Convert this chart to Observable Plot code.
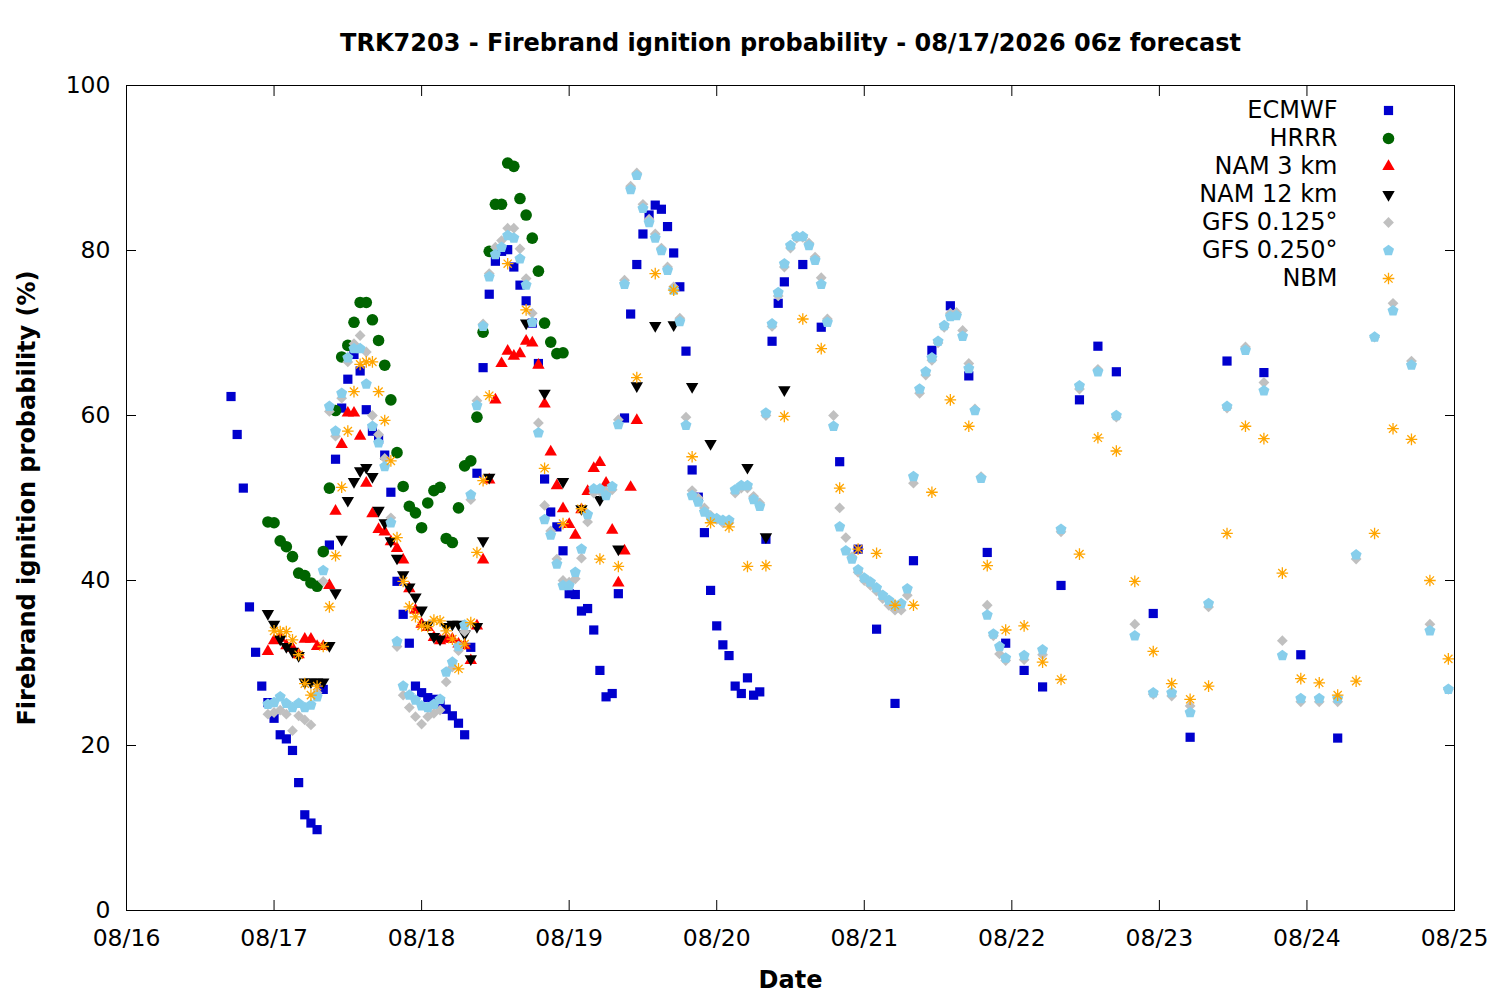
<!DOCTYPE html>
<html><head><meta charset="utf-8">
<script src="https://cdn.jsdelivr.net/npm/d3@7"></script>
<script src="https://cdn.jsdelivr.net/npm/@observablehq/plot@0.6"></script>
<style>html,body{margin:0;padding:0;background:#fff;} #chart svg{display:block;}</style>
</head><body><div id="chart"></div>
<script>
// ---------------- data (hours after 08/16/2026 00z, probability %) ----------------
const models = ["ECMWF", "HRRR", "NAM 3 km", "NAM 12 km", "GFS 0.125°", "GFS 0.250°", "NBM"];
const title = "TRK7203 - Firebrand ignition probability - 08/17/2026 06z forecast";
const xLabel = "Date";
const yLabel = "Firebrand ignition probability (%)";
const xTickLabels = ["08/16","08/17","08/18","08/19","08/20","08/21","08/22","08/23","08/24","08/25"];
const yTicks = [0, 20, 40, 60, 80, 100];

const ecmwf = [[17,62.3],[18,57.7],[19,51.2],[20,36.8],[21,31.3],[22,27.2],[23,25.2],[24,23.3],[25,21.3],[26,20.8],[27,19.4],[28,15.5],[29,11.6],[30,10.6],[31,9.8],[32,26.8],[33,44.3],[34,54.7],[35,60.9],[36,64.4],[37,67.4],[38,65.4],[39,60.7],[40,58.1],[41,57.1],[42,55.2],[43,50.7],[44,39.9],[45,35.9],[46,32.4],[47,27.2],[48,26.4],[49,25.8],[50,25.6],[51,25.1],[52,24.4],[53,23.6],[54,22.7],[55,21.3],[56,31.9],[57,53.0],[58,65.8],[59,74.7],[60,78.7],[61,79.9],[62,80.1],[63,78.0],[64,75.8],[65,73.9],[66,71.2],[67,66.3],[68,52.3],[69,48.3],[70,46.5],[71,43.6],[72,38.4],[73,38.3],[74,36.3],[75,36.6],[76,34.0],[77,29.1],[78,25.9],[79,26.3],[80,38.4],[81,59.7],[82,72.3],[83,78.3],[84,82.0],[85,84.3],[86,85.5],[87,85.0],[88,82.9],[89,79.7],[90,75.6],[91,67.8],[92,53.4],[93,50.1],[94,45.8],[95,38.8],[96,34.5],[97,32.2],[98,30.9],[99,27.2],[100,26.3],[101,28.2],[102,26.1],[103,26.5],[104,45.0],[105,69.0],[106,73.6],[107,76.2],[110,78.3],[113,70.7],[116,54.4],[119,43.8],[122,34.1],[125,25.1],[128,42.4],[131,67.9],[134,73.3],[137,64.8],[140,43.4],[143,32.4],[146,29.1],[149,27.1],[152,39.4],[155,61.9],[158,68.4],[161,65.3],[167,36.0],[173,21.0],[179,66.6],[185,65.2],[191,31.0],[197,20.9]];

const hrrr = [[23,47.1],[24,47.0],[25,44.8],[26,44.1],[27,42.9],[28,40.9],[29,40.6],[30,39.7],[31,39.3],[32,43.5],[33,51.2],[34,60.6],[35,67.1],[36,68.5],[37,71.3],[38,73.7],[39,73.7],[40,71.6],[41,69.1],[42,66.1],[43,61.9],[44,55.5],[45,51.4],[46,49.0],[47,48.2],[48,46.4],[49,49.4],[50,50.9],[51,51.3],[52,45.1],[53,44.6],[54,48.8],[55,53.9],[56,54.5],[57,59.8],[58,70.1],[59,79.9],[60,85.6],[61,85.6],[62,90.6],[63,90.2],[64,86.3],[65,84.3],[66,81.5],[67,77.5],[68,71.2],[69,68.9],[70,67.5],[71,67.6]];

const nam3 = [[23,31.4],[24,32.7],[25,33.0],[26,32.1],[27,31.8],[28,31.0],[29,32.9],[30,32.9],[31,32.0],[32,32.0],[33,39.4],[34,48.4],[35,56.5],[36,60.3],[37,60.3],[38,57.5],[39,51.8],[40,48.1],[41,46.2],[42,45.9],[43,44.7],[44,43.9],[45,42.5],[46,39.0],[47,36.4],[48,34.7],[49,34.3],[50,33.1],[51,32.7],[52,32.9],[53,32.9],[54,32.3],[55,32.1],[56,30.3],[57,34.5],[58,42.5],[59,52.2],[60,61.9],[61,66.3],[62,67.8],[63,67.2],[64,67.5],[65,69.0],[66,68.8],[67,66.1],[68,61.4],[69,55.6],[70,51.5],[71,48.7],[72,46.8],[73,45.5],[74,48.6],[75,50.8],[76,53.6],[77,54.3],[78,51.8],[79,46.1],[80,39.7],[81,43.6],[82,51.3],[83,59.4]];

const nam12 = [[23,36.0],[24,34.7],[25,32.9],[26,32.0],[27,31.4],[28,30.9],[29,27.7],[30,27.7],[31,27.7],[32,27.7],[33,32.1],[34,38.5],[35,45.0],[36,49.7],[37,52.0],[38,53.3],[39,53.7],[40,52.6],[41,48.5],[42,47.0],[43,44.8],[44,42.7],[45,40.7],[46,39.2],[47,38.0],[48,36.4],[49,34.6],[50,33.2],[51,32.9],[52,34.4],[53,34.7],[54,34.7],[55,33.5],[56,30.5],[57,34.4],[58,44.8],[59,52.5],[65,71.2],[68,62.7],[71,52.0],[74,48.7],[77,49.8],[80,43.8],[83,63.6],[86,70.9],[89,71.0],[92,63.5],[95,56.6],[101,53.7],[104,45.3],[107,63.1]];

const gfs125 = [[23,23.8],[24,24.0],[25,24.3],[26,23.8],[27,21.8],[28,23.6],[29,23.1],[30,22.5],[31,26.4],[32,39.9],[33,60.5],[34,57.5],[35,62.1],[36,66.5],[37,68.7],[38,69.7],[39,67.7],[40,60.0],[41,57.7],[42,54.8],[43,47.6],[44,32.0],[45,26.1],[46,24.6],[47,23.5],[48,22.6],[49,23.5],[50,23.9],[51,24.3],[52,27.7],[53,29.5],[54,31.5],[55,33.8],[56,49.8],[57,61.8],[58,71.1],[59,77.2],[60,80.4],[61,81.2],[62,82.7],[63,82.7],[64,80.2],[65,76.6],[66,72.4],[67,59.1],[68,49.1],[69,46.0],[70,42.6],[71,40.0],[72,39.8],[73,40.2],[74,42.7],[75,47.1],[76,50.6],[77,50.8],[78,50.8],[79,51.0],[80,59.5],[81,76.4],[82,87.8],[83,89.4],[84,85.6],[85,83.8],[86,82.0],[87,80.3],[88,78.0],[89,75.6],[90,71.8],[91,59.8],[92,50.9],[93,50.0],[94,48.8],[95,47.9],[96,47.4],[97,47.0],[98,47.0],[99,50.6],[100,51.2],[101,51.2],[102,50.2],[103,49.4],[104,60.0],[105,70.8],[106,74.5],[107,78.0],[108,80.3],[109,81.5],[110,81.6],[111,80.9],[112,79.2],[113,76.7],[114,71.7],[115,60.0],[116,48.8],[117,45.2],[118,42.9],[119,41.0],[120,40.0],[121,39.4],[122,38.7],[123,37.8],[124,37.0],[125,36.4],[126,36.4],[127,38.2],[128,51.8],[129,62.7],[130,64.9],[131,66.7],[132,68.8],[133,70.7],[134,72.4],[135,72.5],[136,70.3],[137,66.3],[138,60.8],[139,52.6],[140,37.0],[141,33.3],[142,31.1],[143,30.3],[146,30.4],[149,31.0],[152,45.9],[155,63.2],[158,65.6],[161,59.8],[164,34.7],[167,26.2],[170,26.0],[173,24.8],[176,36.8],[179,60.9],[182,68.3],[185,64.0],[188,32.7],[191,25.3],[194,25.3],[197,25.3],[200,42.6],[203,69.5],[206,73.6],[209,66.6],[212,34.7],[215,26.8]];

const gfs250 = [[23,25.0],[24,25.2],[25,25.9],[26,25.1],[27,24.6],[28,25.1],[29,24.6],[30,24.9],[31,25.9],[32,41.2],[33,61.1],[34,58.1],[35,62.7],[36,67.0],[37,68.1],[38,68.1],[39,63.8],[40,58.7],[41,56.7],[42,53.8],[43,47.0],[44,32.6],[45,27.2],[46,26.1],[47,25.5],[48,24.8],[49,24.6],[50,25.0],[51,25.6],[52,28.9],[53,30.1],[54,32.0],[55,34.6],[56,50.4],[57,61.2],[58,70.8],[59,76.8],[60,79.5],[61,80.4],[62,81.8],[63,81.5],[64,79.0],[65,75.8],[66,71.3],[67,57.9],[68,47.4],[69,45.5],[70,42.0],[71,39.4],[72,39.4],[73,41.0],[74,43.8],[75,48.0],[76,51.1],[77,51.1],[78,50.3],[79,51.4],[80,58.9],[81,75.9],[82,87.4],[83,89.1],[84,85.1],[85,83.4],[86,81.5],[87,80.0],[88,77.6],[89,75.2],[90,71.4],[91,58.8],[92,50.3],[93,49.5],[94,48.3],[95,47.7],[96,47.5],[97,47.3],[98,47.3],[99,51.0],[100,51.5],[101,51.5],[102,49.8],[103,49.0],[104,60.3],[105,71.1],[106,74.9],[107,78.4],[108,80.6],[109,81.7],[110,81.7],[111,80.6],[112,78.8],[113,75.9],[114,71.3],[115,58.7],[116,46.5],[117,43.6],[118,42.6],[119,41.3],[120,40.3],[121,39.8],[122,39.1],[123,38.2],[124,37.6],[125,37.0],[126,37.2],[127,39.0],[128,52.6],[129,63.2],[130,65.3],[131,67.0],[132,69.0],[133,70.9],[134,72.0],[135,72.1],[136,69.6],[137,65.7],[138,60.6],[139,52.4],[140,35.8],[141,33.5],[142,32.0],[143,30.6],[146,30.9],[149,31.6],[152,46.2],[155,63.6],[158,65.3],[161,60.0],[164,33.3],[167,26.4],[170,26.4],[173,24.0],[176,37.2],[179,61.1],[182,67.9],[185,63.0],[188,30.9],[191,25.7],[194,25.7],[197,25.7],[200,43.1],[203,69.5],[206,72.7],[209,66.1],[212,33.9],[215,26.8]];

const nbm = [[24,33.9],[25,33.8],[26,33.8],[27,32.8],[28,31.0],[29,27.5],[30,26.1],[31,27.2],[32,32.0],[33,36.8],[34,43.0],[35,51.3],[36,58.1],[37,62.9],[38,66.2],[39,66.5],[40,66.5],[41,62.9],[42,59.4],[43,54.5],[44,45.2],[45,39.9],[46,36.8],[47,35.6],[48,34.5],[49,34.4],[50,35.2],[51,35.1],[52,33.9],[53,32.9],[54,29.3],[55,32.3],[56,34.9],[57,43.4],[58,52.1],[59,62.4],[62,78.4],[65,72.8],[68,53.6],[71,46.9],[74,48.7],[77,42.6],[80,41.7],[83,64.6],[86,77.2],[89,75.2],[92,55.0],[95,47.0],[98,46.5],[101,41.7],[104,41.8],[107,59.9],[110,71.7],[113,68.1],[116,51.2],[119,43.8],[122,43.3],[125,37.0],[128,37.0],[131,50.7],[134,61.9],[137,58.7],[140,41.8],[143,34.0],[146,34.5],[149,30.1],[152,28.0],[155,43.2],[158,57.3],[161,55.7],[164,39.9],[167,31.4],[170,27.5],[173,25.6],[176,27.2],[179,45.7],[182,58.7],[185,57.2],[188,40.9],[191,28.1],[194,27.6],[197,26.1],[200,27.8],[203,45.7],[206,58.4],[209,57.1],[212,40.0],[215,30.5]];

// ---------------- symbols & styles ----------------
function poly(points) {
  return {draw(ctx, size) {
    const r = Math.sqrt(size / Math.PI);
    points.forEach(([px, py], i) => i ? ctx.lineTo(px * r, py * r) : ctx.moveTo(px * r, py * r));
    ctx.closePath();
  }};
}
const symSquare = poly([[-1,-1],[1,-1],[1,1],[-1,1]]);
const symTriUp = poly([[0,-1.15],[1,0.58],[-1,0.58]]);
const symTriDown = poly([[0,1.15],[1,-0.58],[-1,-0.58]]);
const symDiamond = poly([[0,-1],[1,0],[0,1],[-1,0]]);
const symPentagon = poly([0,1,2,3,4].map(k => [Math.cos(-Math.PI/2 + k*2*Math.PI/5), Math.sin(-Math.PI/2 + k*2*Math.PI/5)]));
const symAsterisk = {draw(ctx, size) {
  const r = Math.sqrt(size / Math.PI);
  for (let k = 0; k < 4; k++) {
    const a = k * Math.PI / 4;
    ctx.moveTo(-r * Math.cos(a), -r * Math.sin(a));
    ctx.lineTo(r * Math.cos(a), r * Math.sin(a));
  }
}};

const seriesData = [ecmwf, hrrr, nam3, nam12, gfs125, gfs250, nbm];
const styles = [
  {symbol: symSquare, fill: "#0000cd", stroke: "none", r: 4.6},
  {symbol: "circle", fill: "#006400", stroke: "none", r: 5.8},
  {symbol: symTriUp, fill: "#ff0000", stroke: "none", r: 6.2},
  {symbol: symTriDown, fill: "#000000", stroke: "none", r: 6.2},
  {symbol: symDiamond, fill: "#c0c0c0", stroke: "none", r: 5.4},
  {symbol: symPentagon, fill: "#87ceeb", stroke: "none", r: 5.8},
  {symbol: symAsterisk, fill: "none", stroke: "#ffa500", strokeWidth: 1.3, r: 5.8}
];

const base = Date.UTC(2026, 7, 16);
const rows = (pairs, model) => pairs.map(([h, v]) => ({time: new Date(base + h * 3600e3), value: v, model}));
const xTicks = xTickLabels.map(s => { const [m, d] = s.split("/").map(Number); return new Date(Date.UTC(2026, m - 1, d)); });
const fmt = d3.utcFormat("%m/%d");

const marks = [];
seriesData.forEach((pairs, i) => {
  marks.push(Plot.dot(rows(pairs, models[i]), {x: "time", y: "value", ...styles[i]}));
});
// legend (inside top-right of the frame)
models.forEach((name, i) => {
  marks.push(Plot.text([name], {text: d => d, frameAnchor: "top-right", dx: -117, dy: 25 + 28 * i, textAnchor: "end", lineAnchor: "middle", fontSize: 24}));
  marks.push(Plot.dot([name], {frameAnchor: "top-right", dx: -66, dy: 25 + 28 * i, ...styles[i]}));
});
marks.push(
  Plot.frame({stroke: "black", strokeWidth: 1}),
  Plot.axisX(xTicks, {anchor: "bottom", tickSize: 0, tickPadding: 19, tickFormat: fmt, fontSize: 23.5, label: null}),
  Plot.axisX(xTicks, {anchor: "bottom", tickSize: -10, fill: null, label: null}),
  Plot.axisX(xTicks, {anchor: "top", tickSize: -10, fill: null, label: null}),
  Plot.axisY(yTicks, {anchor: "left", tickSize: 0, tickPadding: 16, fontSize: 23.5, label: null}),
  Plot.axisY(yTicks, {anchor: "left", tickSize: -10, fill: null, label: null}),
  Plot.axisY(yTicks, {anchor: "right", tickSize: -10, fill: null, label: null}),
  Plot.text([title], {text: d => d, frameAnchor: "top", dy: -42, lineAnchor: "middle", fontSize: 24, fontWeight: "bold"}),
  Plot.text([xLabel], {text: d => d, frameAnchor: "bottom", dy: 70, lineAnchor: "middle", fontSize: 24, fontWeight: "bold"}),
  Plot.text([yLabel], {text: d => d, frameAnchor: "left", dx: -99, rotate: -90, textAnchor: "middle", lineAnchor: "middle", fontSize: 24, fontWeight: "bold"})
);

const chart = Plot.plot({
  width: 1500, height: 1000,
  marginLeft: 126, marginRight: 46, marginTop: 85, marginBottom: 90,
  x: {type: "utc", domain: [xTicks[0], xTicks[xTicks.length - 1]]},
  y: {domain: [0, 100]},
  style: {fontFamily: "'DejaVu Sans', sans-serif", fontSize: "23px", color: "black", background: "white", overflow: "visible"},
  marks
});
document.getElementById("chart").append(chart);
</script>
</body></html>
